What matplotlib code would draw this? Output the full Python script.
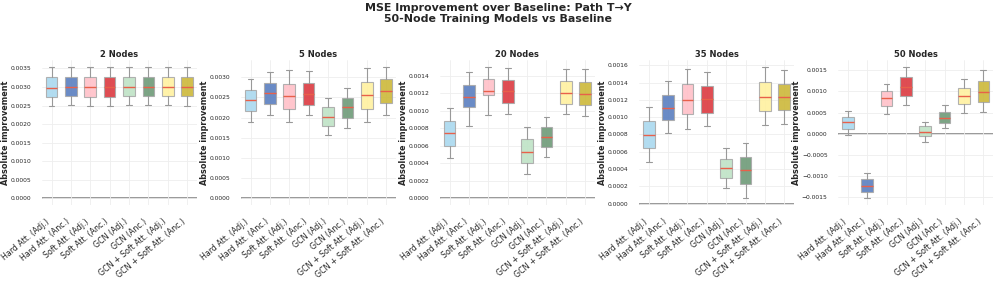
import matplotlib
matplotlib.use("Agg")
import matplotlib.pyplot as plt
import seaborn as sns

models = ["Hard Att. (Adj.)", "Hard Att. (Anc.)", "Soft Att. (Adj.)", "Soft Att. (Anc.)",
          "GCN (Adj.)", "GCN (Anc.)", "GCN + Soft Att. (Adj.)", "GCN + Soft Att. (Anc.)"]
colors = ["#aad9ef", "#5a7fc0", "#ffc0c8", "#dc3a40", "#bfe3c6", "#6e9a78", "#fff1a0", "#ccb83a"]
panels = ["2 Nodes", "5 Nodes", "20 Nodes", "35 Nodes", "50 Nodes"]

# box stats per panel: whisker low, q1, median, q3, whisker high
whislo = [
    [0.002483, 0.002509, 0.00250, 0.002490, 0.002509, 0.002509, 0.002518, 0.00250],
    [0.00190, 0.002064, 0.001896, 0.002064, 0.001568, 0.001752, 0.001896, 0.002056],
    [0.00046, 0.000829, 0.000958, 0.000961, 0.000276, 0.000479, 0.000961, 0.000947],
    [0.000485, 0.000821, 0.000866, 0.000899, 0.000183, 0.00006, 0.000907, 0.000918],
    [-0.000023, -0.001523, 0.000457, 0.000685, -0.000183, 0.000129, 0.000495, 0.000518],
]
q1 = [
    [0.002734, 0.002751, 0.002743, 0.002734, 0.002751, 0.002751, 0.002769, 0.002751],
    [0.00216, 0.002336, 0.002216, 0.00232, 0.0018, 0.0020, 0.002224, 0.002352],
    [0.000604, 0.001046, 0.001179, 0.00109, 0.000405, 0.000589, 0.00108, 0.001068],
    [0.000638, 0.000966, 0.001034, 0.001052, 0.000299, 0.000224, 0.001071, 0.001078],
    [0.000114, -0.001363, 0.000647, 0.000898, -0.000053, 0.000259, 0.00070, 0.000754],
]
med = [
    [0.002977, 0.003003, 0.002986, 0.002986, 0.003003, 0.003003, 0.003012, 0.002995],
    [0.002424, 0.0026, 0.002528, 0.002592, 0.002024, 0.002264, 0.002552, 0.002648],
    [0.000744, 0.001164, 0.001227, 0.001223, 0.000534, 0.00070, 0.001205, 0.001194],
    [0.000799, 0.001112, 0.001201, 0.001216, 0.000414, 0.000392, 0.001239, 0.001235],
    [0.000266, -0.001218, 0.000838, 0.001112, 0.000053, 0.000381, 0.000898, 0.00099],
]
q3 = [
    [0.003264, 0.003273, 0.003264, 0.003264, 0.003273, 0.003273, 0.003281, 0.003264],
    [0.00268, 0.002864, 0.002832, 0.002864, 0.002272, 0.002496, 0.002888, 0.00296],
    [0.000884, 0.001297, 0.001359, 0.001352, 0.000674, 0.000818, 0.001341, 0.001334],
    [0.000955, 0.001261, 0.001381, 0.001358, 0.000522, 0.000545, 0.00141, 0.001388],
    [0.000396, -0.001066, 0.001005, 0.001348, 0.000175, 0.000518, 0.001081, 0.001241],
]
whishi = [
    [0.003524, 0.00355, 0.003533, 0.003524, 0.003541, 0.003541, 0.00355, 0.003533],
    [0.002944, 0.003128, 0.003168, 0.003144, 0.002496, 0.002744, 0.003216, 0.003264],
    [0.001035, 0.00144, 0.001507, 0.001492, 0.000821, 0.000932, 0.001477, 0.001477],
    [0.001116, 0.001418, 0.00156, 0.001519, 0.000638, 0.000701, 0.001586, 0.001545],
    [0.000533, -0.000921, 0.00118, 0.001584, 0.000282, 0.00067, 0.001279, 0.0015],
]

sns.set_style("whitegrid")
plt.rcParams['font.family'] = ['DejaVu Sans']

fig, axes = plt.subplots(1, 5, figsize=(9.96, 2.84), dpi=100)
fig.subplots_adjust(left=0.042, right=0.997, top=0.789, bottom=0.278, wspace=0.285)

for p, ax in enumerate(axes):
    stats = []
    for i in range(len(models)):
        stats.append(dict(whislo=whislo[p][i], q1=q1[p][i], med=med[p][i],
                          q3=q3[p][i], whishi=whishi[p][i], fliers=[]))
    bp = ax.bxp(stats, widths=0.6, patch_artist=True, showfliers=False,
                boxprops=dict(edgecolor="#aaaaaa", linewidth=0.8),
                whiskerprops=dict(color="#999999", linewidth=0.8),
                capprops=dict(color="#999999", linewidth=0.8),
                medianprops=dict(color="#e8604a", linewidth=1.0))
    for patch, c in zip(bp["boxes"], colors):
        patch.set_facecolor(c)
        patch.set_alpha(0.9)
    ax.axhline(0, color="#888888", linewidth=1.2, zorder=0.5)
    ax.set_xticks(range(1, len(models) + 1))
    ax.set_xticklabels(models, rotation=40, ha="right", fontsize=5.7)
    ax.tick_params(axis="y", labelsize=4.3, pad=4)
    ax.tick_params(axis="x", pad=5)
    ax.set_title(panels[p], fontsize=6, fontweight="bold", pad=2)
    ax.set_ylabel("Absolute improvement", fontsize=5.9, fontweight="bold", labelpad=0.5)
    ax.grid(True, color="#eeeeee", linewidth=0.6)
    for s in ax.spines.values():
        s.set_visible(False)

fig.suptitle("MSE Improvement over Baseline: Path T\u2192Y\n50-Node Training Models vs Baseline",
             fontsize=7.9, fontweight="bold", y=0.99, linespacing=1.15)

plt.savefig("out.png", dpi=100)
